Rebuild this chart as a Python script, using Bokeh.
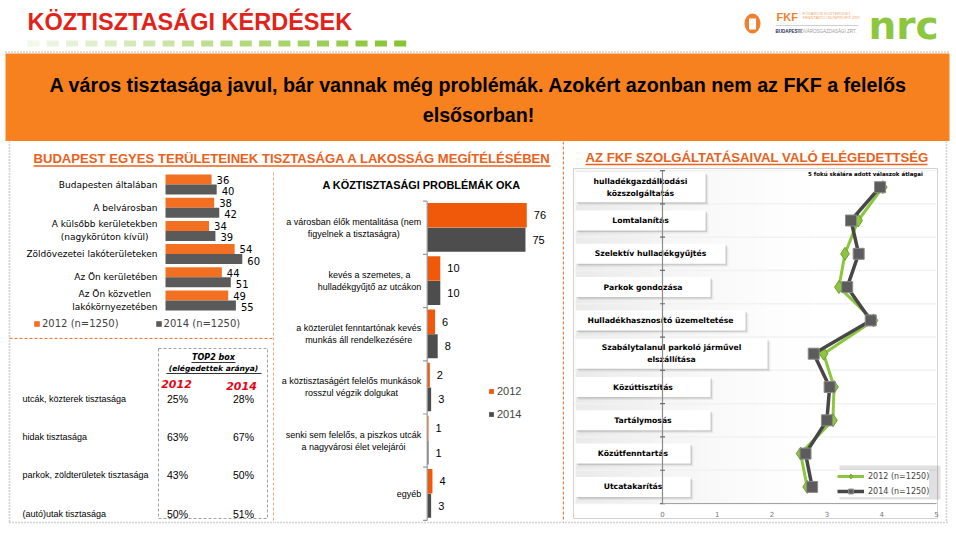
import numpy as np
from bokeh.plotting import figure
from bokeh.layouts import row, column
from bokeh.models import Range1d, Legend, LegendItem
from bokeh.core.properties import value
from bokeh.embed import file_html
from bokeh.resources import INLINE

# ---------------- data ----------------
area_labels = ["Budapesten általában", "A belvárosban",
               "A külsőbb kerületekben\n(nagykörúton kívül)",
               "Zöldövezetei lakóterületeken", "Az Ön kerületében",
               "Az Ön közvetlen\nlakókörnyezetében"]
area_2012 = [36, 38, 34, 54, 44, 49]
area_2014 = [40, 42, 39, 60, 51, 55]
area_series = ["2012 (n=1250)", "2014 (n=1250)"]

cause_labels = ["a városban élők mentalitása (nem\nfigyelnek a tisztaságra)",
                "kevés a szemetes, a\nhulladékgyűjtő az utcákon",
                "a közterület fenntartónak kevés\nmunkás áll rendelkezésére",
                "a köztisztaságért felelős munkások\nrosszul végzik dolgukat",
                "senki sem felelős, a piszkos utcák\na nagyvárosi élet velejárói",
                "egyéb"]
cause_2012 = [76, 10, 6, 2, 1, 4]
cause_2014 = [75, 10, 8, 3, 1, 3]
cause_series = ["2012", "2014"]

top2_rows = ["utcák, közterek tisztasága", "hidak tisztasága",
             "parkok, zöldterületek tisztasága", "(autó)utak tisztasága"]
top2_2012 = [25, 63, 43, 50]
top2_2014 = [28, 67, 50, 51]
top2_years = ["2012", "2014"]

service_labels = ["hulladékgazdálkodási\nközszolgáltatás", "Lomtalanítás",
                  "Szelektív hulladékgyűjtés", "Parkok gondozása",
                  "Hulladékhasznosító üzemeltetése",
                  "Szabálytalanul parkoló járművel\nelszállítása",
                  "Közúttisztítás", "Tartálymosás", "Közútfenntartás",
                  "Utcatakarítás"]
service_2012 = [4.02, 3.57, 3.33, 3.22, 3.85, 2.94, 3.13, 3.11, 2.52, 2.64]
service_2014 = [3.97, 3.44, 3.58, 3.37, 3.80, 2.76, 3.05, 3.00, 2.61, 2.73]
service_series = ["2012 (n=1250)", "2014 (n=1250)"]
service_ticks = [0, 1, 2, 3, 4, 5]

# layout-only widths of the white label boxes (pixels)
service_box_w = [130, 130, 150, 135, 170, 192, 135, 135, 115, 115]

# ---------------- styles ----------------
ARIAL = "Liberation Sans"
VERD = "DejaVu Sans"
BANNER = "#F7811E"
TITLE_OR = "#E8621C"
OR1 = "#F36F21"
GR1 = "#5A5A5A"
OR2 = "#F0580A"
GR2 = "#4D4D4D"
GREEN = "#8CC63E"
DASH_OR = dict(line_color="#EE7A3A", line_width=1.3, line_dash="3 2")
DOT_GR = dict(line_color="#A8A8A8", line_width=1.6, line_dash="1 2")


def bare(w, h, x0, x1, y0, y1):
    p = figure(width=w, height=h, x_range=Range1d(x0, x1), y_range=Range1d(y0, y1),
               x_axis_type=None, y_axis_type=None, output_backend="svg",
               toolbar_location=None, min_border=0)
    p.outline_line_color = None
    p.background_fill_color = "white"
    p.border_fill_color = "white"
    return p


def txt(p, x, y, t, size, color="black", font=ARIAL, style="normal",
        align="left", baseline="middle", **kw):
    return p.text(x=x, y=y, text=t, text_font=value(font), text_font_size=size,
                  text_color=color, text_font_style=style, text_align=align,
                  text_baseline=baseline, **kw)


# ---------------- header ----------------
HW, HH = 956, 141
hd = bare(HW, HH, 0, HW, HH, 0)
txt(hd, [27], [21], ["KÖZTISZTASÁGI KÉRDÉSEK"], "23.5px", "#E2231A", style="bold")
n_sq = 20
c0 = np.array([0xF2, 0xF8, 0xEA]); c1 = np.array([0x86, 0xC4, 0x32])
sq_cols = ["#%02x%02x%02x" % tuple(int(v) for v in c0 + (c1 - c0) * k / (n_sq - 1))
           for k in range(n_sq)]
sq_x = [33 + k * 19.3 for k in range(n_sq)]
hd.rect(x=sq_x, y=[43] * n_sq, width=12, height=6, fill_color=sq_cols, line_color=None)
# logos
hd.ellipse(x=[752], y=[23], width=16, height=20, fill_color="#F07F2E", line_color=None)
hd.quad(left=[748.5], right=[755.5], top=[18], bottom=[29], fill_color="white", line_color=None)
txt(hd, [776], [16.5], ["FKF"], "11px", "#F07F2E", style="bold")
txt(hd, [802], [12.5], ["FŐVÁROSI KÖZTERÜLET-"], "4px", "#F3A56E")
txt(hd, [802], [17], ["FENNTARTÓ NONPROFIT ZRT."], "4px", "#F3A56E")
hd.segment(x0=[775], y0=[25], x1=[858], y1=[25], line_color="#D0D0D0", line_width=1)
txt(hd, [775], [30.5], ["BUDAPESTI"], "4.5px", "#1F2F5C", style="bold")
txt(hd, [797], [30.5], ["FŐVÁROSGAZDASÁGI ZRT."], "4.5px", "#9A9A9A")
txt(hd, [868], [25], ["nrc"], "39px", "#8DC63F", font=VERD, style="bold")
hd.segment(x0=[5], y0=[51.5], x1=[950], y1=[51.5], **DOT_GR)
hd.quad(left=[5], right=[949], top=[53], bottom=[141], fill_color=BANNER, line_color=None)
txt(hd, [478, 478], [84, 114],
    ["A város tisztasága javul, bár vannak még problémák. Azokért azonban nem az FKF a felelős",
     "elsősorban!"], "19.7px", "black", style="bold", align="center")

# ---------------- section title (left + middle) ----------------
SW, SH = 562, 29
sec = bare(SW, SH, 0, SW, SH, 0)
txt(sec, [33], [17], ["BUDAPEST EGYES TERÜLETEINEK TISZTASÁGA A LAKOSSÁG MEGÍTÉLÉSÉBEN"],
    "13.1px", TITLE_OR, style="bold")
sec.segment(x0=[33], y0=[24.5], x1=[550], y1=[24.5], line_color=TITLE_OR, line_width=1.3)
sec.segment(x0=[9], y0=[0], x1=[9], y1=[SH], **DOT_GR)

# ---------------- left-top bar chart ----------------
LW, LH = 274, 167
LPX = 1.28
lx0, lx1 = -165 / LPX, (LW - 165) / LPX
ly_top, ly_bot = -14 / 23.2, (LH - 14) / 23.2
lt = bare(LW, LH, lx0, lx1, ly_bot, ly_top)
LX = lambda px: lx0 + px / LPX
LY = lambda px: ly_top + px / 23.2
idx = list(range(len(area_labels)))
y12 = [i - 0.215 for i in idx]
y14 = [i + 0.215 for i in idx]
r_a12 = lt.hbar(y=y12, left=0, right=area_2012, height=0.43, fill_color=OR1, line_color=None)
r_a14 = lt.hbar(y=y14, left=0, right=area_2014, height=0.43, fill_color=GR1, line_color=None)
txt(lt, area_2012, [i - 0.2 for i in idx], [str(v) for v in area_2012], "10px", font=VERD, x_offset=5)
txt(lt, area_2014, [i + 0.28 for i in idx], [str(v) for v in area_2014], "10px", font=VERD, x_offset=5)
txt(lt, [0] * len(idx), idx, area_labels, "9px", font=VERD, align="center",
    anchor="center_right", x_offset=-8, text_line_height=1.3)
lt.add_layout(Legend(items=[LegendItem(label=area_series[0], renderers=[r_a12]),
                            LegendItem(label=area_series[1], renderers=[r_a14])],
                     orientation="horizontal", location=(33, 8), padding=0, margin=0,
                     spacing=36, glyph_width=7, glyph_height=7, label_standoff=2,
                     label_height=10, label_text_font=VERD, label_text_font_size="10px",
                     border_line_color=None, background_fill_alpha=0))
lt.segment(x0=[LX(9)], y0=[ly_top], x1=[LX(9)], y1=[ly_bot], **DOT_GR)
lt.segment(x0=[LX(273.5)], y0=[LY(2)], x1=[LX(273.5)], y1=[ly_bot], **DASH_OR)

# ---------------- TOP2 table ----------------
TW, TH = 274, 196
ty_top, ty_bot = -61.3 / 38.33, (TH - 61.3) / 38.33
tb = bare(TW, TH, 0, TW, ty_bot, ty_top)
TY = lambda px: ty_top + px / 38.33
ridx = list(range(len(top2_rows)))
tb.quad(left=[158], right=[267], top=[TY(11)], bottom=[TY(181)], fill_color=None,
        line_color="#A0A0A0", line_width=1, line_dash="3 2")
txt(tb, [213], [TY(20)], ["TOP2 box"], "8px", font=VERD, style="bold italic", align="center")
tb.segment(x0=[191], y0=[TY(25)], x1=[235], y1=[TY(25)], line_color="black", line_width=0.8)
txt(tb, [213], [TY(31)], ["(elégedettek aránya)"], "7.5px", font=VERD, style="bold italic", align="center")
tb.segment(x0=[166], y0=[TY(36)], x1=[261], y1=[TY(36)], line_color="black", line_width=0.8)
txt(tb, [176, 241], [TY(46), TY(48)], top2_years, "11px", "#E30613", font=VERD,
    style="bold italic", align="center")
txt(tb, [22] * len(ridx), ridx, top2_rows, "9px", font=ARIAL)
txt(tb, [177] * len(ridx), ridx, ["%d%%" % v for v in top2_2012], "10.5px", font=ARIAL, align="center")
txt(tb, [243] * len(ridx), ridx, ["%d%%" % v for v in top2_2014], "10.5px", font=ARIAL, align="center")
tb.segment(x0=[9], y0=[TY(0.8)], x1=[TW], y1=[TY(0.8)], **DASH_OR)
tb.segment(x0=[9], y0=[ty_top], x1=[9], y1=[TY(185)], **DOT_GR)
tb.segment(x0=[273.5], y0=[ty_top], x1=[273.5], y1=[TY(185)], **DASH_OR)
tb.segment(x0=[9], y0=[TY(185)], x1=[TW], y1=[TY(185)], **DOT_GR)

# ---------------- middle chart: causes ----------------
MW, MH = 288, 363
MPX = 1.31
mx0, mx1 = -152.7 / MPX, (MW - 152.7) / MPX
my_top, my_bot = -57.3 / 53.2, (MH - 57.3) / 53.2
mid = bare(MW, MH, mx0, mx1, my_bot, my_top)
MX = lambda px: mx0 + px / MPX
MY = lambda px: my_top + px / 53.2
cidx = list(range(len(cause_labels)))
cy12 = [i - 0.235 for i in cidx]
cy14 = [i + 0.225 for i in cidx]
r_c12 = mid.hbar(y=cy12, left=0, right=cause_2012, height=0.46, fill_color=OR2, line_color=None)
r_c14 = mid.hbar(y=cy14, left=0, right=cause_2014, height=0.45, fill_color=GR2, line_color=None)
txt(mid, cause_2012, cy12, [str(v) for v in cause_2012], "11px", x_offset=7)
txt(mid, cause_2014, cy14, [str(v) for v in cause_2014], "11px", x_offset=7)
bounds = [i - 0.5 for i in range(len(cause_labels) + 1)]
mid.segment(x0=[0], y0=[bounds[0]], x1=[0], y1=[bounds[-1]], line_color="#9A9A9A", line_width=1.2)
mid.segment(x0=[MX(148.5)] * len(bounds), y0=bounds, x1=[0] * len(bounds), y1=bounds,
            line_color="#9A9A9A", line_width=1.2)
txt(mid, [0] * len(cidx), cidx, cause_labels, "9px", align="center", anchor="center_right",
    x_offset=-6, text_line_height=1.22)
txt(mid, [MX(147)], [MY(14)], ["A KÖZTISZTASÁGI PROBLÉMÁK OKA"], "10.9px",
    style="bold", align="center")
mid.add_layout(Legend(items=[LegendItem(label=cause_series[0], renderers=[r_c12]),
                             LegendItem(label=cause_series[1], renderers=[r_c14])],
                      orientation="vertical", location=(214, 113), padding=0, margin=0,
                      spacing=11, glyph_width=6, glyph_height=6, label_standoff=3,
                      label_height=11, label_text_font=ARIAL, label_text_font_size="11px",
                      border_line_color=None, background_fill_alpha=0))
mid.segment(x0=[mx0], y0=[MY(352)], x1=[mx1], y1=[MY(352)], **DOT_GR)

# ---------------- right chart: satisfaction ----------------
RW, RH = 394, 392
RPX, RPY = 54.8, 33.3
rx0, rx1 = -100 / RPX, (RW - 100) / RPX
ry_top, ry_bot = -45.7 / RPY, (RH - 45.7) / RPY
rt = bare(RW, RH, rx0, rx1, ry_bot, ry_top)
RX = lambda px: rx0 + px / RPX
RY = lambda px: ry_top + px / RPY
sidx = list(range(len(service_labels)))
sb = [i - 0.5 for i in range(len(service_labels) + 1)]
# plot area frame
rt.quad(left=[RX(11)], right=[RX(375)], top=[RY(27)], bottom=[RY(377)], fill_color="white",
        line_color="#D2D2D2", line_width=1)
# soft grey gradient behind the label boxes
nb = 26
for k in range(nb):
    rt.quad(left=[RX(13 + k * 9.5)], right=[RX(13 + (k + 1) * 9.5)], top=[sb[0]], bottom=[sb[-1]],
            fill_color="#7A7A7A", fill_alpha=0.15 * (1 - k / nb) ** 1.5, line_color=None)
rt.segment(x0=[RX(12)] * len(sb), y0=sb, x1=[RX(374)] * len(sb), y1=sb,
           line_color="#F2F2F2", line_width=1.5)
# label boxes
bw = service_box_w
bh = [(0.9 if "\n" in s else 0.6) for s in service_labels]
rt.quad(left=[RX(16)] * len(sidx), right=[RX(16 + w) for w in bw],
        top=[i - h / 2 + 3 / RPY for i, h in zip(sidx, bh)],
        bottom=[i + h / 2 + 3 / RPY for i, h in zip(sidx, bh)],
        fill_color="black", fill_alpha=0.06, line_color=None)
rt.quad(left=[RX(14.5)] * len(sidx), right=[RX(14.5 + w) for w in bw],
        top=[i - h / 2 + 1.5 / RPY for i, h in zip(sidx, bh)],
        bottom=[i + h / 2 + 1.5 / RPY for i, h in zip(sidx, bh)],
        fill_color="black", fill_alpha=0.12, line_color=None)
rt.quad(left=[RX(13)] * len(sidx), right=[RX(13 + w) for w in bw],
        top=[i - h / 2 for i, h in zip(sidx, bh)], bottom=[i + h / 2 for i, h in zip(sidx, bh)],
        fill_color="white", line_color=None)
txt(rt, [RX(13 + w / 2) for w in bw], sidx, service_labels, "7.7px", font=VERD, style="bold",
    align="center", text_line_height=1.35)
# axes
rt.segment(x0=[0], y0=[sb[0]], x1=[0], y1=[sb[-1]], line_color="#8C8C8C", line_width=1.2)
rt.segment(x0=[RX(97.5)] * len(sb), y0=sb, x1=[RX(102.5)] * len(sb), y1=sb,
           line_color="#6E6E6E", line_width=1.2)
rt.segment(x0=[service_ticks[0]], y0=[sb[-1]], x1=[service_ticks[-1]], y1=[sb[-1]],
           line_color="#A0A0A0", line_width=1)
txt(rt, service_ticks, [RY(372)] * len(service_ticks), [str(t) for t in service_ticks],
    "7px", "#777777", font=VERD, align="center")
# series
l12 = rt.line(service_2012, sidx, line_color=GREEN, line_width=3, line_join="round")
m12 = rt.scatter(service_2012, sidx, marker="diamond", size=13, fill_color=GREEN,
                 line_color="#6F9F2C", line_width=1)
l14 = rt.line(service_2014, sidx, line_color="#474747", line_width=3.5, line_join="round")
m14 = rt.scatter(service_2014, sidx, marker="square", size=11, fill_color="#5C5C5C",
                 line_color="#8A8A8A", line_width=1)
txt(rt, [RX(303)], [RY(32)], ["5 fokú skálára adott válaszok átlagai"], "5.5px", font=VERD,
    style="bold", align="center")
# legend shadow + legend
rt.quad(left=[RX(277)], right=[RX(378)], top=[RY(324)], bottom=[RY(358)], fill_color="black",
        fill_alpha=0.12, line_color=None)
rt.add_layout(Legend(items=[LegendItem(label=service_series[0], renderers=[l12, m12]),
                            LegendItem(label=service_series[1], renderers=[l14, m14])],
                     location=(275, 36), padding=5, margin=0, spacing=3, glyph_width=27,
                     glyph_height=12, label_standoff=4, label_height=12,
                     label_text_font=VERD, label_text_font_size="8px",
                     border_line_color=None, background_fill_color="white",
                     background_fill_alpha=1))
# title + panel borders
txt(rt, [RX(23)], [RY(15.5)], ["AZ FKF SZOLGÁLTATÁSAIVAL VALÓ ELÉGEDETTSÉG"], "13.2px", TITLE_OR,
    style="bold")
rt.segment(x0=[RX(23)], y0=[RY(23)], x1=[RX(365)], y1=[RY(23)], line_color=TITLE_OR, line_width=1.3)
rt.segment(x0=[RX(0.8)], y0=[ry_top], x1=[RX(0.8)], y1=[RY(381)], **DASH_OR)
rt.segment(x0=[RX(384)], y0=[ry_top], x1=[RX(384)], y1=[RY(381)], **DOT_GR)
rt.segment(x0=[RX(0)], y0=[RY(381)], x1=[RX(386)], y1=[RY(381)], **DOT_GR)

# ---------------- layout ----------------
left_col = column(lt, tb, spacing=0)
lower_left = column(sec, row(left_col, mid, spacing=0), spacing=0)
page = column(hd, row(lower_left, rt, spacing=0), spacing=0)

open("out.html", "w").write(file_html(page, INLINE))
